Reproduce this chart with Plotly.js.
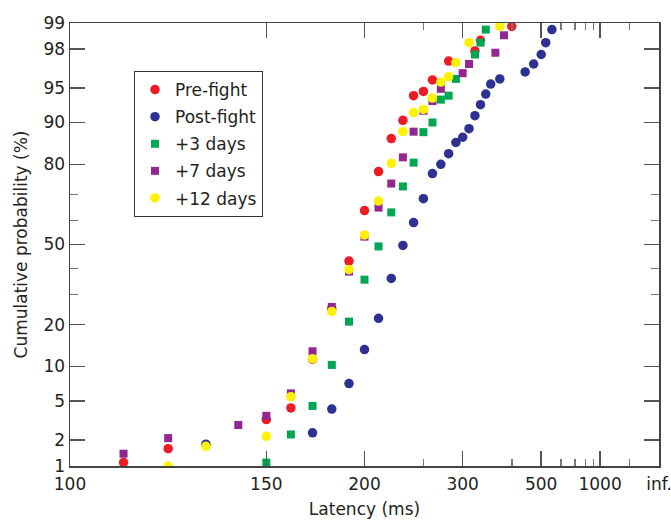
<!DOCTYPE html>
<html><head><meta charset="utf-8">
<script src="https://cdn.plot.ly/plotly-3.0.1.min.js"></script>
<style>html,body{margin:0;padding:0;background:#fff}#chart{width:671px;height:522px}</style>
</head><body><div id="chart"></div>
<script>
// ---- data (latency in ms, cumulative probability in %) ----
const seriesNames = ['Pre-fight', 'Post-fight', '+3 days', '+7 days', '+12 days'];

const preLatency = [110, 120, 150, 160, 170, 180, 190, 200, 210, 220, 230, 240, 250, 260, 280, 320, 330, 400];
const prePct     = [1.1, 1.6, 3.3, 4.3, 11.4, 25.0, 43.1, 63.9, 77.8, 86.7, 90.4, 94.1, 94.6, 95.8, 97.3, 97.9, 98.4, 98.9];

const postLatency = [130, 170, 180, 190, 200, 210, 220, 230, 240, 250, 260, 270, 280, 290, 300, 310, 320, 330, 340, 350, 370, 440, 470, 500, 520, 550];
const postPct     = [1.8, 2.4, 4.2, 7.2, 13.5, 21.9, 36.1, 49.6, 59.1, 68.5, 77.2, 80.0, 83.0, 85.8, 87.0, 88.8, 91.2, 92.9, 94.3, 95.4, 95.9, 96.5, 97.1, 97.7, 98.3, 98.8];

const d3Latency = [150, 160, 170, 180, 190, 200, 210, 220, 230, 240, 250, 260, 270, 280, 290, 320, 330, 340];
const d3Pct     = [1.1, 2.3, 4.5, 10.3, 20.9, 35.6, 49.2, 63.2, 72.9, 80.5, 88.1, 90.0, 93.6, 94.1, 95.9, 97.7, 98.3, 98.8];

const d7Latency = [110, 120, 140, 150, 160, 170, 180, 190, 200, 210, 220, 230, 240, 250, 260, 270, 300, 310, 360, 380];
const d7Pct     = [1.4, 2.1, 2.9, 3.6, 5.9, 13.1, 25.6, 38.8, 53.3, 65.1, 73.9, 82.0, 88.2, 92.0, 93.4, 94.9, 96.4, 97.1, 97.8, 98.6];

const d12Latency = [120, 130, 150, 160, 170, 180, 190, 200, 210, 220, 230, 240, 250, 260, 270, 280, 290, 310, 370];
const d12Pct     = [1.0, 1.7, 2.2, 5.5, 11.5, 24.1, 39.6, 54.0, 67.6, 80.3, 88.2, 91.7, 92.2, 93.8, 95.6, 96.1, 97.2, 98.3, 98.9];

const xMajorTicks = [100, 150, 200, 300, 500, 1000, Infinity];
const xMajorText  = ['100', '150', '200', '300', '500', '1000', 'inf.'];
const xMinorTicks = [250, 400, 600, 700, 800, 900, 2000];
const yMajorTicks = [1, 2, 5, 10, 20, 50, 80, 90, 95, 98, 99];
const yMinorTicks = [30, 40, 60, 70];

// ---- scales: reciprocal latency (x) and probit (y) ----
function probit(p) {
  const a = [-3.969683028665376e+01, 2.209460984245205e+02, -2.759285104469687e+02, 1.383577518672690e+02, -3.066479806614716e+01, 2.506628277459239e+00];
  const b = [-5.447609879822406e+01, 1.615858368580409e+02, -1.556989798598866e+02, 6.680131188771972e+01, -1.328068155288572e+01];
  const c = [-7.784894002430293e-03, -3.223964580411365e-01, -2.400758277161838e+00, -2.549732539343734e+00, 4.374664141464968e+00, 2.938163982698783e+00];
  const d = [7.784695709041462e-03, 3.224671290700398e-01, 2.445134137142996e+00, 3.754408661907416e+00];
  const plow = 0.02425, phigh = 1 - plow;
  let q, r;
  if (p < plow) {
    q = Math.sqrt(-2 * Math.log(p));
    return (((((c[0]*q+c[1])*q+c[2])*q+c[3])*q+c[4])*q+c[5]) / ((((d[0]*q+d[1])*q+d[2])*q+d[3])*q+1);
  } else if (p <= phigh) {
    q = p - 0.5; r = q*q;
    return (((((a[0]*r+a[1])*r+a[2])*r+a[3])*r+a[4])*r+a[5])*q / (((((b[0]*r+b[1])*r+b[2])*r+b[3])*r+b[4])*r+1);
  } else {
    q = Math.sqrt(-2 * Math.log(1 - p));
    return -(((((c[0]*q+c[1])*q+c[2])*q+c[3])*q+c[4])*q+c[5]) / ((((d[0]*q+d[1])*q+d[2])*q+d[3])*q+1);
  }
}
const fx = ms => (ms === Infinity ? 0 : -1000 / ms);
const fy = pct => probit(pct / 100);

const colors = ['#ED1C24', '#2E3192', '#00A651', '#92278F', '#FFF200'];
const symbols = ['circle', 'circle', 'square', 'square', 'circle'];
const sizes = [9.5, 9.5, 8, 8, 9.5];
const lat = [preLatency, postLatency, d3Latency, d7Latency, d12Latency];
const pct = [prePct, postPct, d3Pct, d7Pct, d12Pct];

const traces = seriesNames.map((name, i) => ({
  type: 'scatter', mode: 'markers', name: name,
  x: lat[i].map(fx), y: pct[i].map(fy),
  marker: {color: colors[i], symbol: symbols[i], size: sizes[i], line: {width: 0}},
  legendgroup: 'g' + i
}));

const fontFam = '"DejaVu Sans", sans-serif';
const axisCommon = {
  showgrid: false, zeroline: false, showline: true, linecolor: '#444', linewidth: 1.5,
  mirror: 'ticks', ticks: 'inside', ticklen: 15, tickwidth: 1.5, tickcolor: '#555',
  tickfont: {size: 17, color: '#231F20', family: fontFam},
  tickmode: 'array', automargin: false, ticklabeloverflow: 'allow'
};

const layout = {
  width: 671, height: 522,
  margin: {l: 70, r: 12, t: 23, b: 56, pad: 0},
  paper_bgcolor: '#fff', plot_bgcolor: '#fff',
  font: {family: fontFam, color: '#231F20', size: 17},
  showlegend: true,
  xaxis: Object.assign({}, axisCommon, {
    range: [fx(100), 0],
    tickvals: xMajorTicks.map(fx), ticktext: xMajorText,
    ticklabelstandoff: 2,
    minor: {tickmode: 'array', tickvals: xMinorTicks.map(fx), ticks: 'inside', ticklen: 7, tickwidth: 1.5, tickcolor: '#777'},
    title: {text: 'Latency (ms)', font: {size: 17, family: fontFam, color: '#231F20'}, standoff: 10}
  }),
  yaxis: Object.assign({}, axisCommon, {
    range: [fy(1), fy(99)],
    tickvals: yMajorTicks.map(fy), ticktext: yMajorTicks.map(String),
    minor: {tickmode: 'array', tickvals: yMinorTicks.map(fy), ticks: 'inside', ticklen: 8, tickwidth: 1.5, tickcolor: '#777'},
    title: {text: 'Cumulative probability (%)', font: {size: 17, family: fontFam, color: '#231F20'}, standoff: 11}
  }),
  legend: {
    x: (134 - 70) / 589, y: (466 - 71) / 443, xanchor: 'left', yanchor: 'top',
    bgcolor: '#fff', bordercolor: '#333', borderwidth: 1,
    font: {size: 17, family: fontFam, color: '#231F20'},
    tracegroupgap: 2
  }
};

Plotly.newPlot('chart', traces, layout, {displayModeBar: false, staticPlot: true});
</script>
</body></html>
